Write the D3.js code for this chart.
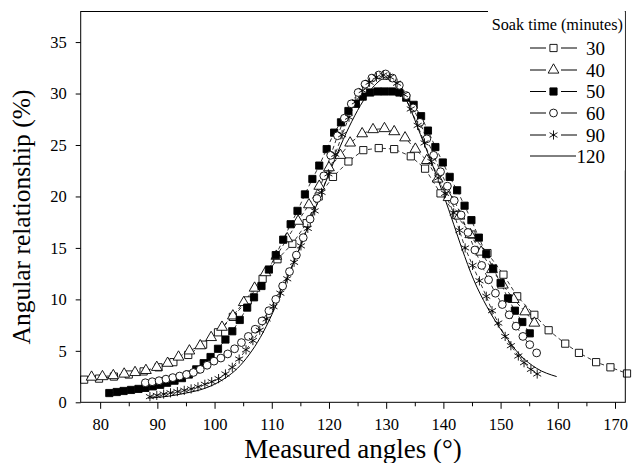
<!DOCTYPE html>
<html>
<head>
<meta charset="utf-8">
<script src="https://cdn.jsdelivr.net/npm/d3@7"></script>
<style>
  body { margin: 0; background: #fff; }
  svg text { font-family: Liberation Serif, Times New Roman, serif; }
</style>
</head>
<body>
<div id="chart"></div>
<script>
// soak time series (angle in degrees, relationship in %)
const angles30 = [77.2,79.8,82.4,85.0,87.6,90.2,92.8,95.4,98.0,100.6,103.2,105.8,108.4,111.0,113.6,116.1,118.2,120.7,123.4,126.0,128.7,131.4,134.3,136.8,139.5,142.2,144.9,147.7,150.5,152.9,155.9,158.4,161.3,163.7,166.7,169.2,172.1];
const values30 = [2.2,2.3,2.5,2.7,3.0,3.4,3.9,4.6,5.6,6.8,8.3,9.9,12.0,13.9,15.4,17.4,20.0,21.9,23.4,24.5,24.7,24.6,23.9,22.7,20.3,18.2,16.3,14.5,12.4,10.3,8.5,7.0,5.7,4.8,3.9,3.4,2.8];

const angles40 = [78.5,80.4,82.3,84.2,86.1,88.0,89.9,91.8,93.7,95.6,97.5,99.4,101.3,103.2,105.1,107.0,108.9,110.8,112.7,114.6,116.5,118.3,120.0,122.0,123.7,125.8,127.7,129.7,131.4,133.3,135.1,137.1,139.0,140.9,142.8,144.7,146.6,148.5,150.4,152.3,154.3,155.9];
const values40 = [2.45,2.5,2.6,2.75,2.9,3.1,3.4,3.8,4.4,5.0,5.5,6.3,7.3,8.4,9.7,11.1,12.6,14.2,15.9,17.6,19.2,21.0,22.8,24.0,25.2,26.1,26.5,26.6,26.3,25.7,24.6,23.5,21.7,19.9,18.1,16.3,14.6,12.9,11.4,10.0,8.8,7.7];

const angles50 = [81.6,82.9,84.1,85.4,86.7,87.9,89.2,90.5,91.7,93.0,94.3,95.5,96.8,98.1,99.3,100.6,101.9,103.1,104.4,105.7,106.9,108.2,109.5,110.7,112.0,113.3,114.5,115.8,117.1,118.3,119.6,120.9,122.1,123.4,124.7,125.9,127.2,128.5,129.7,131.0,132.3,133.5,134.8,136.1,137.3,138.6,139.9,141.1,142.4,143.7,144.9,146.2,147.5,148.7,150.0,151.3,152.5,153.8,155.1];
const values50 = [0.9,1.0,1.1,1.2,1.3,1.4,1.55,1.7,1.9,2.1,2.35,2.7,3.2,3.8,4.4,5.2,6.1,6.9,8.0,9.2,10.2,11.3,12.9,14.3,15.8,17.3,18.6,20.2,21.7,23.0,24.6,26.2,27.2,28.3,29.0,29.7,30.1,30.2,30.2,30.2,30.1,29.6,28.9,27.8,26.4,24.8,23.3,21.9,20.6,19.1,17.7,16.0,14.4,13.0,11.6,10.1,8.9,7.8,6.7];

const angles60 = [87.9,89.1,90.3,91.5,92.7,93.9,95.1,96.3,97.5,98.7,99.9,101.1,102.3,103.5,104.7,105.9,107.1,108.3,109.5,110.7,111.9,113.1,114.3,115.5,116.7,117.9,119.1,120.3,121.5,122.7,123.9,125.1,126.3,127.5,128.7,129.9,131.1,132.3,133.5,134.7,135.9,137.1,138.3,139.5,140.7,141.9,143.1,144.3,145.5,146.7,147.9,149.1,150.3,151.5,152.7,153.9,155.1,156.3];
const values60 = [1.9,2.0,2.1,2.25,2.4,2.55,2.7,2.9,3.2,3.6,4.0,4.3,4.7,5.2,5.8,6.4,7.1,7.9,8.9,10.0,11.3,12.7,14.3,16.0,17.8,19.8,22.0,24.0,25.9,27.6,29.0,30.1,30.9,31.5,31.8,31.9,31.5,30.8,29.8,28.6,27.2,25.6,24.0,22.4,21.0,19.6,18.2,16.5,14.8,13.3,11.9,10.6,9.5,8.5,7.4,6.4,5.6,4.8];

const angles90 = [88.7,89.9,91.1,92.3,93.5,94.7,95.9,97.1,98.3,99.5,100.7,101.9,103.1,104.3,105.5,106.7,107.9,109.1,110.3,111.5,112.7,113.9,115.1,116.3,117.5,118.7,119.9,121.1,122.3,123.5,124.7,125.9,127.1,128.3,129.5,130.7,131.9,133.1,134.3,135.5,136.7,137.9,139.1,140.3,141.8,142.8,143.8,145.1,146.3,147.5,148.5,149.6,150.8,151.8,153.1,154.1,155.3,156.4];
const values90 = [0.55,0.67,0.8,0.92,1.04,1.16,1.3,1.5,1.75,2.0,2.3,2.75,3.4,4.2,5.1,6.0,7.0,8.1,9.3,10.6,12.0,13.6,15.2,16.9,18.6,20.4,22.2,24.1,26.0,27.7,29.2,30.3,31.1,31.6,31.8,31.6,31.0,29.9,28.5,26.9,25.2,23.4,21.8,20.3,18.4,16.7,15.0,13.3,11.8,10.3,8.9,7.7,6.4,5.5,4.5,3.85,3.2,2.75];

const angles120 = [88.4,92,95,98,100,102,104,106,108,110,112,114,116,118,120,122,124,126,128,129.5,131,132.5,134,136,138,140,141.8,143.2,145.3,147.6,150.5,153.4,156.3,159.8];
const values120 = [0.4,0.6,0.9,1.3,1.75,2.4,3.3,4.6,6.3,8.5,11.1,13.8,16.6,19.4,22.2,24.9,27.3,29.3,30.8,31.4,31.3,30.4,28.8,26.0,23.2,20.2,17.3,15.0,11.9,9.3,6.7,4.6,3.3,2.5];

const soakTimes = ["30", "40", "50", "60", "90", "120"];
const xTicks = [80, 90, 100, 110, 120, 130, 140, 150, 160, 170];
const xMinorTicks = [85, 95, 105, 115, 125, 135, 145, 155, 165];
const yTicks = [0, 5, 10, 15, 20, 25, 30, 35];

const width = 633, height = 463;
const plot = { left: 80.7, right: 625.3, top: 11.5, bottom: 402.3 };
const serif = "Liberation Serif";

const svg = d3.select("#chart").append("svg")
  .attr("width", width)
  .attr("height", height);

const x = d3.scaleLinear().domain([76.6, 171.8]).range([plot.left, plot.right]);
const y = d3.scaleLinear().domain([0, 37.97]).range([plot.bottom, plot.top]);

// marker shapes
const asterisk = r => {
  const c = r * Math.cos(Math.PI / 6), s = r * Math.sin(Math.PI / 6);
  return `M0,${-r}L0,${r}M${-c},${-s}L${c},${s}M${-c},${s}L${c},${-s}`;
};
const markers = {
  "30": { d: d3.symbol(d3.symbolSquare, 52)(), fill: "#fff" },
  "40": { d: d3.symbol(d3.symbolTriangle, 50)(), fill: "#fff" },
  "50": { d: d3.symbol(d3.symbolSquare, 52)(), fill: "#000" },
  "60": { d: d3.symbol(d3.symbolCircle, 48)(), fill: "#fff" },
  "90": { d: asterisk(4.6), fill: "none" },
  "120": null
};

const series = [
  { key: "30", angles: angles30, values: values30 },
  { key: "40", angles: angles40, values: values40 },
  { key: "50", angles: angles50, values: values50 },
  { key: "60", angles: angles60, values: values60 },
  { key: "90", angles: angles90, values: values90 },
  { key: "120", angles: angles120, values: values120 }
].map(s => ({ key: s.key, points: s.angles.map((a, i) => ({ a: a, v: s.values[i] })) }));

// axes
svg.append("g")
  .attr("transform", `translate(0,${plot.bottom})`)
  .call(d3.axisBottom(x).tickValues(xTicks).tickSize(6.5).tickSizeOuter(0).tickPadding(9));
svg.append("g")
  .attr("transform", `translate(0,${plot.bottom})`)
  .call(d3.axisBottom(x).tickValues(xMinorTicks).tickSize(4).tickSizeOuter(0).tickFormat(""));
svg.append("g")
  .attr("transform", `translate(${plot.left},0)`)
  .call(d3.axisLeft(y).tickValues(yTicks).tickSize(5).tickSizeOuter(0).tickPadding(9));

svg.selectAll(".domain").remove();
svg.selectAll("g").attr("font-family", null);
svg.selectAll(".tick line").attr("stroke", "#000").attr("stroke-width", 1);
svg.selectAll(".tick text")
  .attr("fill", "#000")
  .attr("font-family", serif)
  .attr("font-size", 16.5);

// data lines
const line = d3.line().x(d => x(d.a)).y(d => y(d.v));
const g = svg.append("g");

series.forEach(s => {
  if (s.key === "120") {
    g.append("path")
      .datum(s.points)
      .attr("d", line.curve(d3.curveMonotoneX))
      .attr("fill", "none")
      .attr("stroke", "#000")
      .attr("stroke-width", 1);
  } else {
    g.append("path")
      .datum(s.points)
      .attr("d", line.curve(d3.curveLinear))
      .attr("fill", "none")
      .attr("stroke", "#000")
      .attr("stroke-width", 0.8)
      .attr("stroke-dasharray", "4,3");
  }
});

series.forEach(s => {
  const m = markers[s.key];
  if (!m) return;
  g.selectAll(null)
    .data(s.points)
    .join("path")
      .attr("transform", d => `translate(${x(d.a)},${y(d.v)})`)
      .attr("d", m.d)
      .attr("fill", m.fill)
      .attr("stroke", "#000")
      .attr("stroke-width", 0.9);
});

// frame
svg.append("rect")
  .attr("x", plot.left)
  .attr("y", plot.top)
  .attr("width", plot.right - plot.left)
  .attr("height", plot.bottom - plot.top)
  .attr("fill", "none")
  .attr("stroke", "#000")
  .attr("stroke-width", 1);

// legend
const legend = svg.append("g");
legend.append("rect")
  .attr("x", 488)
  .attr("y", plot.top - 1)
  .attr("width", plot.right - 488 - 0.5)
  .attr("height", 160)
  .attr("fill", "#fff");

legend.append("text")
  .attr("x", 623)
  .attr("y", 30)
  .attr("text-anchor", "end")
  .attr("font-family", serif)
  .attr("font-size", 16.2)
  .text("Soak time (minutes)");

const rowY = [48, 70, 91.5, 113, 135, 156];
soakTimes.forEach((t, i) => {
  const ry = rowY[i];
  const m = markers[t];
  if (m) {
    // short dashes either side of the symbol
    [[530, 546], [561, 577]].forEach(([a, b]) => {
      legend.append("line")
        .attr("x1", a).attr("x2", b)
        .attr("y1", ry).attr("y2", ry)
        .attr("stroke", "#000")
        .attr("stroke-width", 1);
    });
    legend.append("path")
      .attr("transform", `translate(553.5,${ry})`)
      .attr("d", m.d)
      .attr("fill", m.fill)
      .attr("stroke", "#000")
      .attr("stroke-width", 0.9);
  } else {
    legend.append("line")
      .attr("x1", 530).attr("x2", 576)
      .attr("y1", ry).attr("y2", ry)
      .attr("stroke", "#000")
      .attr("stroke-width", 1);
  }
  legend.append("text")
    .attr("x", 605)
    .attr("y", ry)
    .attr("dy", "0.35em")
    .attr("text-anchor", "end")
    .attr("font-family", serif)
    .attr("font-size", 19)
    .text(t);
});

// axis titles
svg.append("text")
  .attr("x", (plot.left + plot.right) / 2)
  .attr("y", 458)
  .attr("text-anchor", "middle")
  .attr("font-family", serif)
  .attr("font-size", 27)
  .text("Measured angles (°)");

svg.append("text")
  .attr("transform", "translate(30,217) rotate(-90)")
  .attr("text-anchor", "middle")
  .attr("font-family", serif)
  .attr("font-size", 25.5)
  .text("Angular relationship (%)");
</script>
</body>
</html>
